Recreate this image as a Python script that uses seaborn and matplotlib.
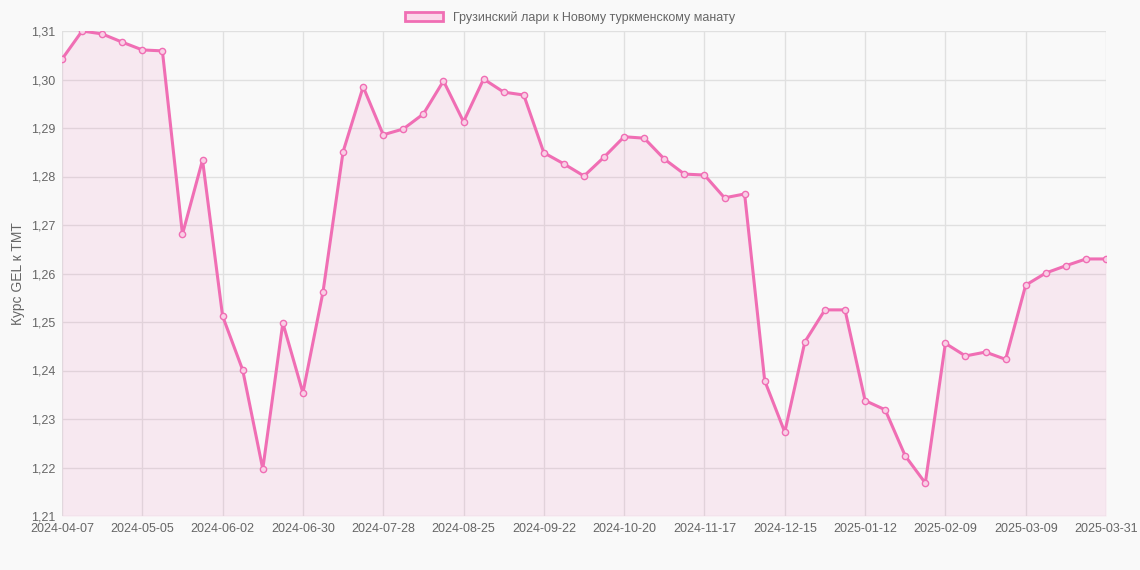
import matplotlib
matplotlib.use("Agg")
import matplotlib.pyplot as plt
import seaborn as sns
import pandas as pd
from matplotlib.patches import Patch

# Weekly GEL -> TMT rate
tick_dates = ["2024-04-07", "2024-05-05", "2024-06-02", "2024-06-30", "2024-07-28",
              "2024-08-25", "2024-09-22", "2024-10-20", "2024-11-17", "2024-12-15",
              "2025-01-12", "2025-02-09", "2025-03-09", "2025-03-31"]
rates = [1.3042, 1.3100, 1.3094, 1.3077, 1.3061, 1.3059, 1.2681, 1.2834, 1.2512, 1.2401,
         1.2197, 1.2498, 1.2354, 1.2562, 1.2851, 1.2985, 1.2886, 1.2898, 1.2929, 1.2997,
         1.2913, 1.3001, 1.2974, 1.2968, 1.2849, 1.2826, 1.2801, 1.2840, 1.2882, 1.2879,
         1.2836, 1.2805, 1.2803, 1.2756, 1.2764, 1.2379, 1.2273, 1.2459, 1.2525, 1.2525,
         1.2338, 1.2319, 1.2224, 1.2168, 1.2456, 1.2430, 1.2438, 1.2423, 1.2576, 1.2601,
         1.2616, 1.2630, 1.2630]

df = pd.DataFrame({"i": range(len(rates)), "rate": rates})
pink = "#f06eb4"

sns.set_style("whitegrid")
plt.rcParams["font.family"] = ["Liberation Sans", "DejaVu Sans"]
fig = plt.figure(figsize=(11.4, 5.7), dpi=100, facecolor="#f9f9f9")
ax = fig.add_axes([62 / 1140, 1 - 516 / 570, (1106 - 62) / 1140, (516 - 31) / 570])
ax.set_facecolor("#f9f9f9")

ax.fill_between(df["i"], df["rate"], 1.21, color=pink, alpha=0.12, linewidth=0)
sns.lineplot(data=df, x="i", y="rate", ax=ax, color=pink, linewidth=2.2,
             marker="o", markersize=4.5, markerfacecolor="#f9d0e6",
             markeredgecolor=pink, markeredgewidth=1)

ax.set_xlim(0, len(rates) - 1)
ax.set_ylim(1.21, 1.31)
tick_pos = list(range(0, len(rates) - 1, 4)) + [len(rates) - 1]
ax.set_xticks(tick_pos)
ax.set_xticklabels(tick_dates, fontsize=9, color="#666666")
yt = [1.21 + 0.01 * k for k in range(11)]
ax.set_yticks(yt)
ax.set_yticklabels([f"{v:.2f}".replace(".", ",") for v in yt], fontsize=9, color="#666666")
ax.grid(True, color="#e0e0e0", linewidth=1)
for s in ax.spines.values():
    s.set_visible(False)
ax.tick_params(length=0, pad=5)
ax.set_xlabel("")
ax.set_ylabel("Курс GEL к TMT", fontsize=10, color="#666666")

fig.legend(handles=[Patch(facecolor="#fbd8ea", edgecolor=pink, linewidth=2,
                          label="Грузинский лари к Новому туркменскому манату")],
           loc="upper center", bbox_to_anchor=(0.5, 1.0), frameon=False,
           fontsize=9, handlelength=3, labelcolor="#666666")

fig.savefig("out.png", dpi=100, facecolor=fig.get_facecolor())
